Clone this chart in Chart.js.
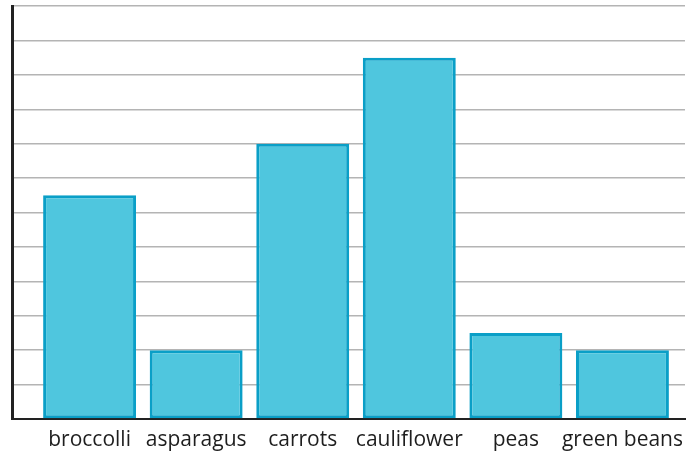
<!DOCTYPE html>
<html>
<head>
<meta charset="utf-8">
<script src="https://cdn.jsdelivr.net/npm/chart.js@4"></script>
<style>
  body { margin: 0; background: #fff; }
  #wrap { width: 693px; height: 452px; }
</style>
</head>
<body>
<div id="wrap"><canvas id="myChart"></canvas></div>
<script>
const categories = ['broccolli', 'asparagus', 'carrots', 'cauliflower', 'peas', 'green beans'];
const amounts = [6.5, 2, 8, 10.5, 2.5, 2];
const yMax = 12;

document.addEventListener('DOMContentLoaded', () => {
    const ctx = document.getElementById('myChart').getContext('2d');

    new Chart(ctx, {
        type: 'bar',
        data: {
            datasets: [{
                data: categories.map((c, i) => ({ x: i, y: amounts[i] })),
                backgroundColor: '#4fc6de',
                borderColor: '#0a9fc7',
                borderWidth: 3,
                borderSkipped: false,
                categoryPercentage: 1,
                barPercentage: 0.872
            }]
        },
        options: {
            responsive: true,
            maintainAspectRatio: false,
            animation: false,
            layout: { padding: { left: 12, right: 8, top: 6, bottom: 0 } },
            plugins: {
                legend: { display: false },
                tooltip: { enabled: false }
            },
            scales: {
                x: {
                    type: 'linear',
                    offset: false,
                    min: -0.728,
                    max: 5.587,
                    afterBuildTicks: (scale) => {
                        scale.ticks = categories.map((c, i) => ({ value: i }));
                    },
                    afterFit: (scale) => { scale.height = 33; },
                    grid: { display: false, offset: false },
                    border: { color: '#222', width: 2 },
                    ticks: {
                        autoSkip: false,
                        maxRotation: 0,
                        padding: 0,
                        color: '#1e1e1e',
                        font: { family: 'Open Sans', size: 21 },
                        callback: (v) => categories[v]
                    }
                },
                y: {
                    min: 0,
                    max: yMax,
                    ticks: { display: false, stepSize: 1 },
                    grid: { color: '#b4b4b4', lineWidth: 1.5, drawTicks: false },
                    border: { color: '#222', width: 3 }
                }
            }
        }
    });
});
</script>
</body>
</html>
